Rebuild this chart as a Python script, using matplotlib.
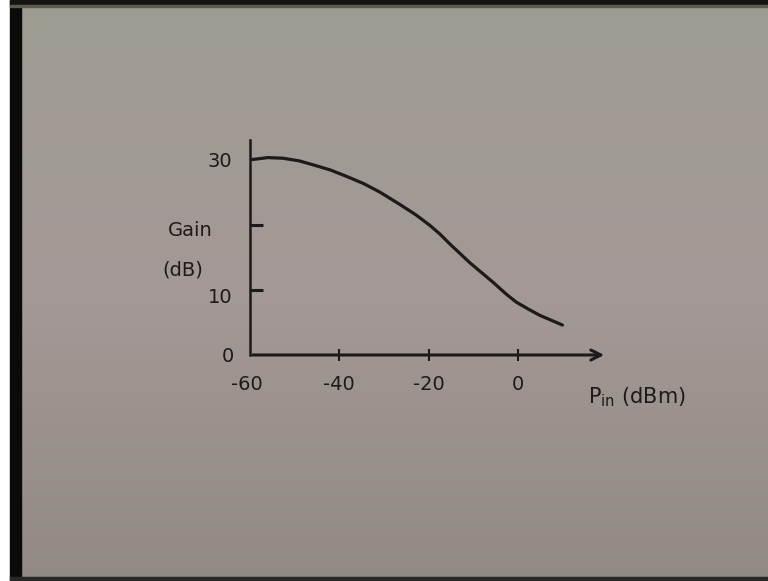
import numpy as np
import matplotlib
matplotlib.use("Agg")
import matplotlib.pyplot as plt
from matplotlib.patches import Rectangle

# --- data ---
pin_dbm = [-59.5, -56.0, -52.6, -49.0, -45.9, -42.0, -38.3, -34.5, -30.9,
           -26.4, -22.8, -19.7, -17.5, -15.3, -10.8, -5.6, -2.5, -0.3,
           2.5, 4.9, 10.0]
gain_db = [30.0, 30.3, 30.2, 29.8, 29.2, 28.4, 27.4, 26.3, 25.0,
           23.1, 21.5, 19.9, 18.6, 17.1, 14.2, 11.2, 9.3, 8.1,
           7.0, 6.1, 4.6]

x_ticks = [-40, -20, 0]
x_labels = ["-60", "-40", "-20", "0"]
x_label_pos = [-60, -40, -20, 0]
y_ticks = [10, 20]
y_labels = ["0", "10", "30"]
y_label_pos = [0, 10, 30]

ink = "#1c1a1a"
W, H = 768, 581

fig = plt.figure(figsize=(W / 100, H / 100), dpi=100)

# --- photo-like background (grey board with dark frame edges) ---
bg = fig.add_axes([0, 0, 1, 1], zorder=-10)
grad = np.linspace(0, 1, 256)[:, None, None]
top = np.array([0.62, 0.61, 0.57])
mid = np.array([0.64, 0.60, 0.59])
bot = np.array([0.57, 0.54, 0.51])
img = np.where(grad < 0.5,
               top + (mid - top) * (grad / 0.5),
               mid + (bot - mid) * ((grad - 0.5) / 0.5))
img = np.repeat(img, 4, axis=1)
bg.imshow(img, aspect="auto", extent=[0, W, H, 0])
bg.add_patch(Rectangle((0, 0), 10, H, color="white"))
bg.add_patch(Rectangle((10, 0), 11, H, color="#0a0a08"))
bg.add_patch(Rectangle((10, 0), W, 5, color="#141410"))
bg.add_patch(Rectangle((10, 5), W, 2, color="#5c5a4c"))
bg.add_patch(Rectangle((10, H - 4), W, 4, color="#2a2826"))
bg.set_xlim(0, W)
bg.set_ylim(H, 0)
bg.axis("off")

# --- the chart itself ---
ax = fig.add_axes([250 / W, (H - 355) / H, 357 / W, 215 / H])
ax.patch.set_alpha(0)
ax.plot(pin_dbm, gain_db, color=ink, lw=2.3, solid_capstyle="round",
        solid_joinstyle="round", clip_on=False)

ax.set_xlim(-60, 20)
ax.set_ylim(0, 33)

for s in ["top", "right", "bottom"]:
    ax.spines[s].set_visible(False)
ax.spines["left"].set_color(ink)
ax.spines["left"].set_linewidth(1.8)

# x axis drawn as an arrow
ax.annotate("", xy=(20, 0), xytext=(-60, 0),
            arrowprops=dict(arrowstyle="->", color=ink, lw=2.2,
                            mutation_scale=18),
            annotation_clip=False)

# tick marks only where the drawing has them
ax.set_xticks(x_ticks)
ax.set_xticklabels([])
ax.set_yticks(y_ticks)
ax.set_yticklabels([])
ax.tick_params(axis="x", direction="inout", length=9, width=1.5, color=ink)
ax.tick_params(axis="y", direction="in", length=9, width=2.2, color=ink)

# handwritten tick labels
for xv, lab in zip(x_label_pos, x_labels):
    ax.annotate(lab, (xv, 0), xytext=(-3 if xv == -60 else 0, -30),
                textcoords="offset pixels", ha="center", va="center",
                fontsize=14, color=ink, annotation_clip=False)
for yv, lab in zip(y_label_pos, y_labels):
    dy = -8 if yv == 10 else -2
    dx = -22 if yv == 0 else -30
    ax.annotate(lab, (-60, yv), xytext=(dx, dy), textcoords="offset pixels",
                ha="center", va="center", fontsize=14, color=ink,
                annotation_clip=False)

fig.text(190 / W, 1 - 230 / H, "Gain", fontsize=14, color=ink,
         ha="center", va="center")
fig.text(183 / W, 1 - 270 / H, "(dB)", fontsize=14, color=ink,
         ha="center", va="center")
fig.text(588 / W, 1 - 397 / H, r"P$_{\mathrm{in}}$ (dBm)", fontsize=15,
         color=ink, ha="left", va="center")

fig.savefig("out.png", dpi=100)
